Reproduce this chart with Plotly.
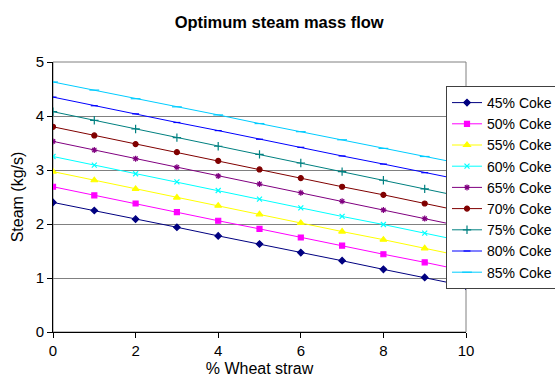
import plotly.graph_objects as go

wheat_straw = [0, 1, 2, 3, 4, 5, 6, 7, 8, 9, 10]

coke_45 = [2.40, 2.25, 2.09, 1.94, 1.78, 1.63, 1.47, 1.32, 1.16, 1.01, 0.85]
coke_50 = [2.69, 2.53, 2.38, 2.22, 2.06, 1.91, 1.75, 1.60, 1.44, 1.29, 1.13]
coke_55 = [2.97, 2.81, 2.65, 2.49, 2.34, 2.18, 2.02, 1.86, 1.71, 1.55, 1.39]
coke_60 = [3.25, 3.09, 2.93, 2.78, 2.62, 2.46, 2.30, 2.14, 1.99, 1.83, 1.67]
coke_65 = [3.53, 3.37, 3.21, 3.05, 2.89, 2.74, 2.58, 2.42, 2.26, 2.10, 1.94]
coke_70 = [3.80, 3.64, 3.48, 3.33, 3.17, 3.01, 2.85, 2.69, 2.54, 2.38, 2.22]
coke_75 = [4.08, 3.92, 3.76, 3.60, 3.44, 3.29, 3.13, 2.97, 2.81, 2.65, 2.49]
coke_80 = [4.35, 4.19, 4.04, 3.88, 3.73, 3.57, 3.42, 3.26, 3.11, 2.95, 2.80]
coke_85 = [4.63, 4.48, 4.32, 4.17, 4.02, 3.86, 3.71, 3.56, 3.40, 3.25, 3.10]

series_names = ["45% Coke", "50% Coke", "55% Coke", "60% Coke", "65% Coke",
                "70% Coke", "75% Coke", "80% Coke", "85% Coke"]
series_values = [coke_45, coke_50, coke_55, coke_60, coke_65,
                 coke_70, coke_75, coke_80, coke_85]
colors = ["#000080", "#FF00FF", "#FFFF00", "#00FFFF", "#800080",
          "#800000", "#008080", "#0000FF", "#00CCFF"]
symbols = ["diamond", "square", "triangle-up", "x-thin-open", "asterisk-open",
           "circle", "cross-thin-open", "line-ew-open", "line-ew-open"]
sizes = [5, 5, 6, 5, 5, 5, 6, 5, 7]

fig = go.Figure()
for name, vals, col, sym, sz in zip(series_names, series_values, colors, symbols, sizes):
    fig.add_trace(go.Scatter(
        x=wheat_straw, y=vals, name=name, mode="lines+markers",
        line=dict(color=col, width=1),
        marker=dict(symbol=sym, size=sz, color=col, line=dict(color=col, width=1.2)),
    ))

font = "Liberation Sans, Arial, sans-serif"
fig.update_layout(
    width=555, height=379,
    margin=dict(l=53, r=89, t=62, b=47, autoexpand=False),
    paper_bgcolor="white", plot_bgcolor="white",
    font=dict(family=font, size=15, color="black"),
    title=dict(text="<b>Optimum steam mass flow</b>", x=0.503, xref="container", xanchor="center",
               y=1 - 22 / 379, yref="container", yanchor="middle",
               font=dict(family=font, size=16.5, color="black")),
    xaxis=dict(range=[0, 10], dtick=2, showgrid=False, zeroline=False,
               showline=True, linecolor="black", linewidth=1,
               ticks="outside", ticklen=5, tickcolor="black",
               title=dict(text="% Wheat straw", font=dict(size=16), standoff=4)),
    yaxis=dict(range=[0, 5], dtick=1, showgrid=True, gridcolor="#808080", gridwidth=1,
               zeroline=False, showline=True, linecolor="black", linewidth=1,
               ticks="outside", ticklen=5, tickcolor="black",
               title=dict(text="Steam (kg/s)", font=dict(size=16), standoff=8)),
    legend=dict(x=(446 - 53) / 413, xanchor="left", y=(332 - 86) / 270, yanchor="top",
                bordercolor="#404040", borderwidth=1, bgcolor="white",
                font=dict(family=font, size=14), tracegroupgap=0),
    shapes=[dict(type="rect", xref="paper", yref="paper", x0=0, y0=0, x1=1, y1=1,
                 line=dict(color="#808080", width=1), layer="below")],
)

fig.write_html("out.html")
